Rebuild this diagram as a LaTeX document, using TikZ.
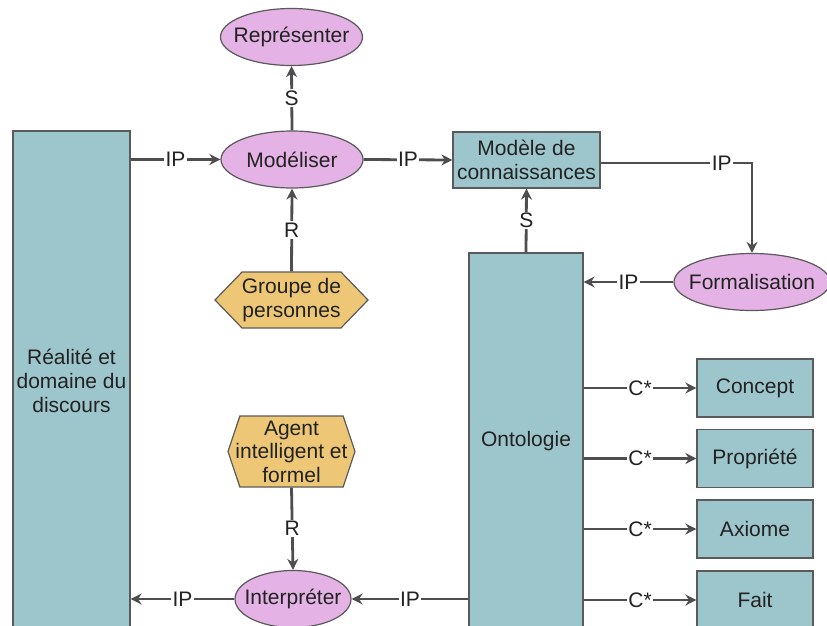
\documentclass[tikz,border=0pt]{standalone}
\usepackage{fontspec}
\setmainfont{Liberation Sans}
\usetikzlibrary{shapes.geometric,shapes.symbols,arrows.meta}

\definecolor{boxfill}{HTML}{9DC5CC}
\definecolor{ovalfill}{HTML}{E4B2E4}
\definecolor{hexfill}{HTML}{EDC776}
\definecolor{edge}{HTML}{5A5A5A}
\definecolor{link}{HTML}{4E4E4E}
\definecolor{ink}{HTML}{222222}

\tikzset{
  base/.style={draw=edge, line width=1.2pt, inner sep=0pt, align=center,
    text=ink, font=\fontsize{21}{24}\selectfont},
  box/.style={base, rectangle, fill=boxfill},
  oval/.style={base, ellipse, fill=ovalfill, minimum width=142pt, minimum height=57pt},
  hexa/.style={base, signal, signal to=west and east, fill=hexfill},
  word/.style={inner sep=0pt, align=center, text=ink, font=\fontsize{21}{23.5}\selectfont},
  conn/.style={draw=link, line width=2.8pt, -{Stealth[length=11pt,width=11pt]}},
  lbl/.style={fill=white, inner sep=1.5pt, text=ink, font=\fontsize{21}{24}\selectfont},
}

\begin{document}
\begin{tikzpicture}[x=1pt, y=-1pt]
\useasboundingbox (0,0) rectangle (827,626);

% boxes
\node[box, minimum width=117pt, minimum height=499pt] (real) at (71.5,380.5)
  {R\'ealit\'e et\\domaine du\\discours};
\node[box, minimum width=114pt, minimum height=377pt] (onto) at (526,441.5) {Ontologie};
\node[box, minimum width=147pt, minimum height=56pt] (mdc) at (526.5,160)
  {Mod\`ele de\\connaissances};
\node[box, minimum width=116pt, minimum height=58pt] (concept) at (755,388) {Concept};
\node[box, minimum width=116pt, minimum height=58pt] (prop) at (755,458.5) {Propri\'et\'e};
\node[box, minimum width=116pt, minimum height=58pt] (axiome) at (755,529) {Axiome};
\node[box, minimum width=116pt, minimum height=58pt] (fait) at (755,600) {Fait};

% ellipses (text set on top so the outline keeps its size)
\node[oval] (repr) at (291.5,37) {};
\node[word] at (repr) {Repr\'esenter};
\node[oval] (model) at (292,159.5) {};
\node[word] at (model) {Mod\'eliser};
\node[oval, minimum width=116pt] (interp) at (293,599) {};
\node[word] at (interp) {Interpr\'eter};
\node[oval, minimum width=156pt] (form) at (752,282) {};
\node[word] at (form) {Formalisation};

% hexagons
\node[hexa, signal pointer angle=92, minimum width=153pt, minimum height=56pt] (grp) at (291.5,300) {};
\node[word] at (grp) {Groupe de\\personnes};
\node[hexa, signal pointer angle=143, minimum width=127pt, minimum height=71pt] (agent) at (291.5,451.5) {};
\node[word] at (agent) {Agent\\intelligent et\\formel};

% connectors
\draw[conn] (real.east |- model) -- node[lbl] {IP} (model.west);
\draw[conn] (model.north) -- node[lbl] {S} (repr.south);
\draw[conn] (grp.north) -- node[lbl] {R} (model.south);
\draw[conn] (model.east) -- node[lbl] {IP} (mdc.west);
\draw[conn] ([yshift=-3pt]mdc.east) -| node[lbl, pos=0.4] {IP} (form.north);
\draw[conn] (form.west) -- node[lbl] {IP} (onto.east |- form);
\draw[conn] (onto.north) -- node[lbl] {S} (mdc.south);
\draw[conn] (onto.east |- concept) -- node[lbl] {C*} (concept.west);
\draw[conn] (onto.east |- prop) -- node[lbl] {C*} (prop.west);
\draw[conn] (onto.east |- axiome) -- node[lbl] {C*} (axiome.west);
\draw[conn] (onto.east |- fait) -- node[lbl] {C*} (fait.west);
\draw[conn] (agent.south) -- node[lbl] {R} (interp.north);
\draw[conn] (onto.west |- interp) -- node[lbl] {IP} (interp.east);
\draw[conn] (interp.west) -- node[lbl] {IP} (real.east |- interp);
\end{tikzpicture}
\end{document}
